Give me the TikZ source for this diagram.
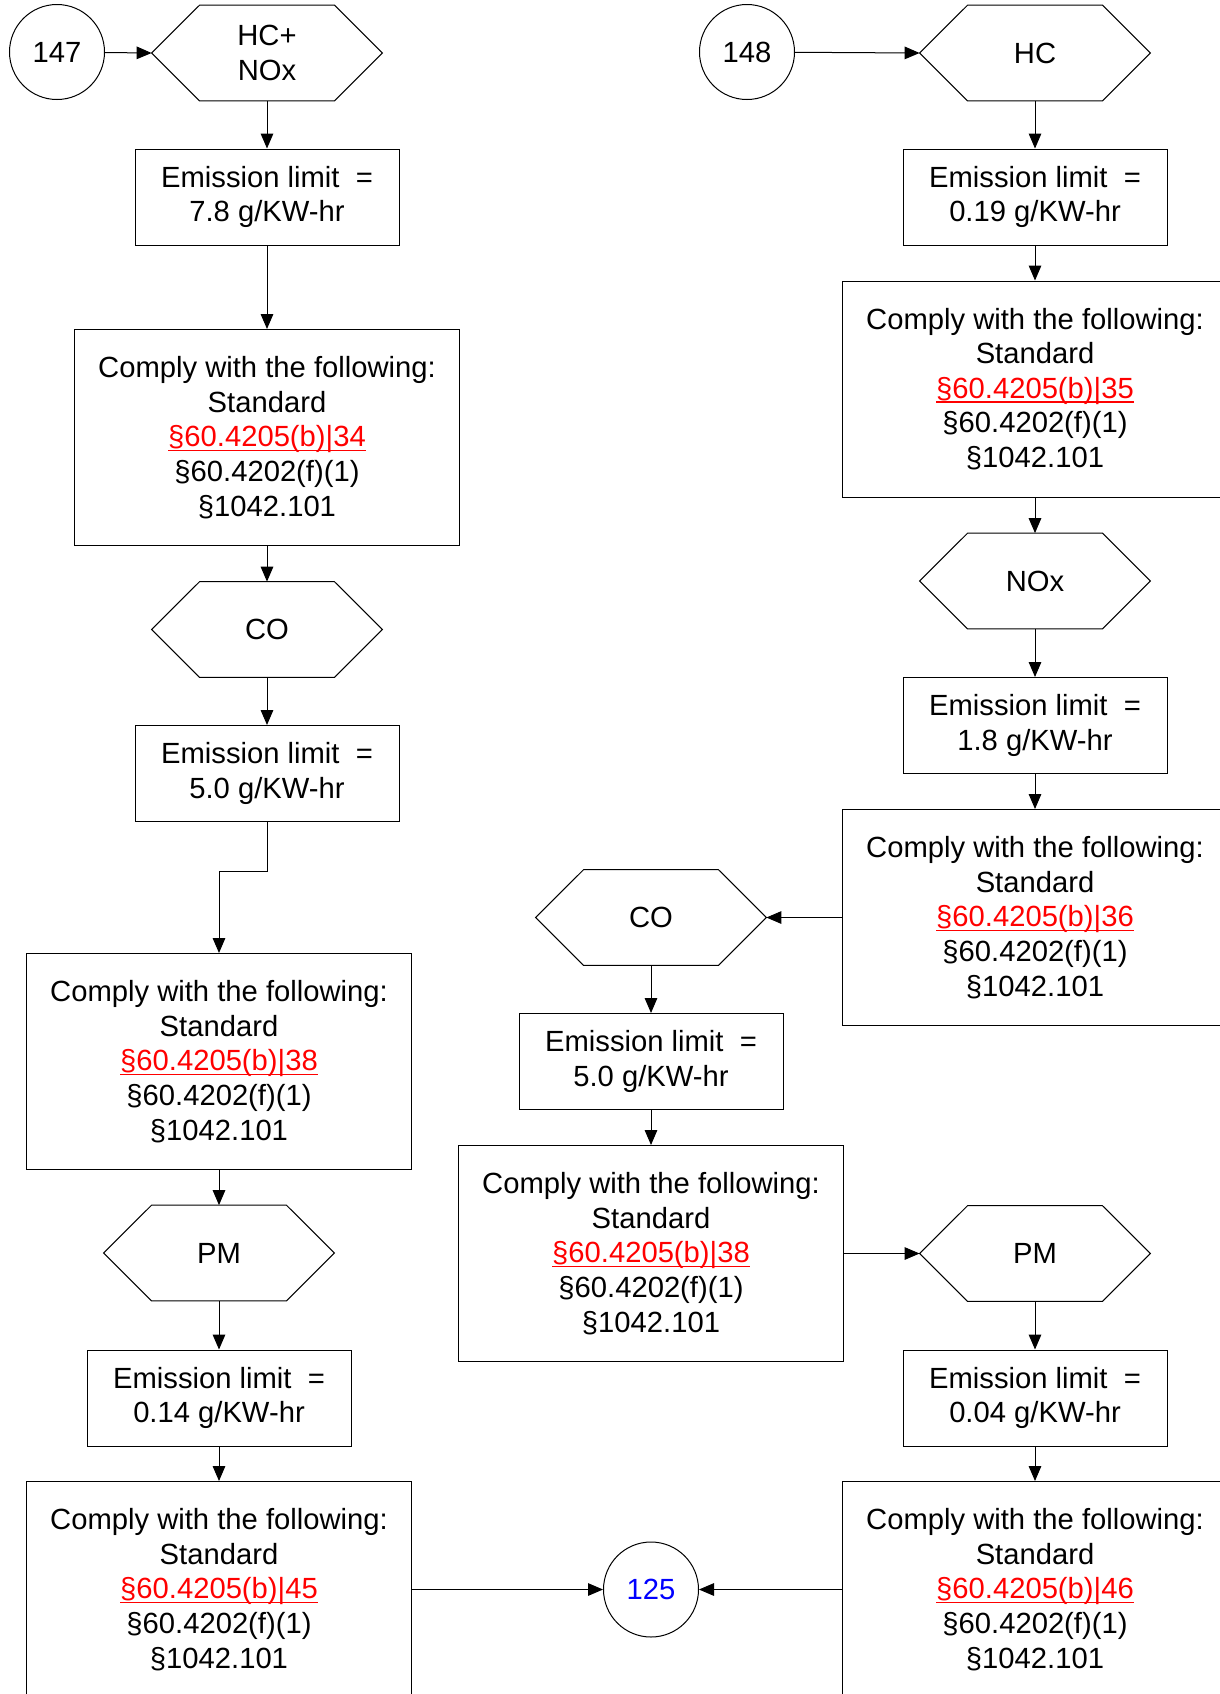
\documentclass[tikz,border=0pt]{standalone}
\usepackage{fontspec}
\setmainfont{Liberation Sans}
\usepackage{tikz}
\usepackage{xcolor}
\usetikzlibrary{positioning,arrows.meta}
\definecolor{RefRed}{HTML}{FF0000}
\definecolor{RefBlue}{HTML}{0000FF}
\newcommand{\stdref}[1]{{\color{RefRed}\setbox0\hbox{§60.4205(b)|#1}\rlap{\rule[-2.2pt]{\wd0}{0.7pt}}\box0}}
\newcommand{\complytext}[1]{Comply with the following:\\Standard\\\stdref{#1}\\§60.4202(f)(1)\\§1042.101}

\begin{document}
\begin{tikzpicture}[
    x=0.5pt, y=-0.5pt,
    font=\fontsize{14.6pt}{17.3pt}\selectfont,
    limitbox/.style={draw, line width=0.5pt, minimum width=132pt, minimum height=48pt, inner sep=0pt, align=center},
    complybox/.style={draw, line width=0.5pt, minimum width=192.5pt, minimum height=108pt, inner sep=0pt, align=center},
    hexnode/.style={minimum width=115pt, minimum height=47.5pt, inner sep=0pt, align=center},
    pagecirc/.style={draw, circle, line width=0.5pt, minimum size=47.5pt, inner sep=0pt},
    flow/.style={line width=0.5pt, -{Triangle[length=7.5pt,width=6.3pt]}}
  ]
  \useasboundingbox (0,0) rectangle (1220,1694);
  \clip (0,0) rectangle (1220,1694);

  % left column
  \node[pagecirc] (pageA) at (57,52) {147};
  \node[hexnode] (gasA) at (267,53) {HC+\\NOx};
  \node[limitbox] (limA) at (267,197) {Emission limit~~=\\7.8 g/KW-hr};
  \node[complybox] (stdA) at (267,437.5) {\complytext{34}};
  \node[hexnode] (coA) at (267,629.5) {CO};
  \node[limitbox] (limCoA) at (267,773.5) {Emission limit~~=\\5.0 g/KW-hr};
  \node[complybox] (stdCoA) at (219,1061.5) {\complytext{38}};
  \node[hexnode] (pmA) at (219,1253) {PM};
  \node[limitbox] (limPmA) at (219,1398) {Emission limit~~=\\0.14 g/KW-hr};
  \node[complybox] (stdPmA) at (219,1589.5) {\complytext{45}};

  % right column
  \node[pagecirc] (pageB) at (747,52) {148};
  \node[hexnode] (gasB) at (1035,53) {HC};
  \node[limitbox] (limB) at (1035,197) {Emission limit~~=\\0.19 g/KW-hr};
  \node[complybox] (stdB) at (1035,389) {\complytext{35}};
  \node[hexnode] (noxB) at (1035,581) {NOx};
  \node[limitbox] (limNoxB) at (1035,725.5) {Emission limit~~=\\1.8 g/KW-hr};
  \node[complybox] (stdNoxB) at (1035,917.5) {\complytext{36}};
  \node[hexnode] (coB) at (651,917.5) {CO};
  \node[limitbox] (limCoB) at (651,1061.5) {Emission limit~~=\\5.0 g/KW-hr};
  \node[complybox] (stdCoB) at (651,1253.5) {\complytext{38}};
  \node[hexnode] (pmB) at (1035,1253.5) {PM};
  \node[limitbox] (limPmB) at (1035,1398) {Emission limit~~=\\0.04 g/KW-hr};
  \node[complybox] (stdPmB) at (1035,1589.5) {\complytext{46}};

  \node[pagecirc, text=RefBlue] (pageC) at (651,1589.5) {125};

  % hexagon outlines
  \foreach \h in {gasA,coA,pmA,gasB,noxB,coB,pmB}
    \draw[line width=0.5pt] (\h.west) -- ([xshift=24pt]\h.north west) -- ([xshift=-24pt]\h.north east)
      -- (\h.east) -- ([xshift=-24pt]\h.south east) -- ([xshift=24pt]\h.south west) -- cycle;

  % connectors
  \draw[flow] (pageA) -- (gasA.west);
  \draw[flow] (gasA) -- (limA);
  \draw[flow] (limA) -- (stdA);
  \draw[flow] (stdA) -- (coA.north);
  \draw[flow] (coA.south) -- (limCoA);
  \draw[flow] (limCoA.south) -- ++(0,49) -| (stdCoA.north);
  \draw[flow] (stdCoA) -- (pmA.north);
  \draw[flow] (pmA.south) -- (limPmA);
  \draw[flow] (limPmA) -- (stdPmA);
  \draw[flow] (stdPmA) -- (pageC);

  \draw[flow] (pageB) -- (gasB.west);
  \draw[flow] (gasB) -- (limB);
  \draw[flow] (limB) -- (stdB);
  \draw[flow] (stdB) -- (noxB.north);
  \draw[flow] (noxB.south) -- (limNoxB);
  \draw[flow] (limNoxB) -- (stdNoxB);
  \draw[flow] (stdNoxB) -- (coB.east);
  \draw[flow] (coB.south) -- (limCoB);
  \draw[flow] (limCoB) -- (stdCoB);
  \draw[flow] (stdCoB) -- (pmB.west);
  \draw[flow] (pmB.south) -- (limPmB);
  \draw[flow] (limPmB) -- (stdPmB);
  \draw[flow] (stdPmB) -- (pageC);
\end{tikzpicture}
\end{document}
